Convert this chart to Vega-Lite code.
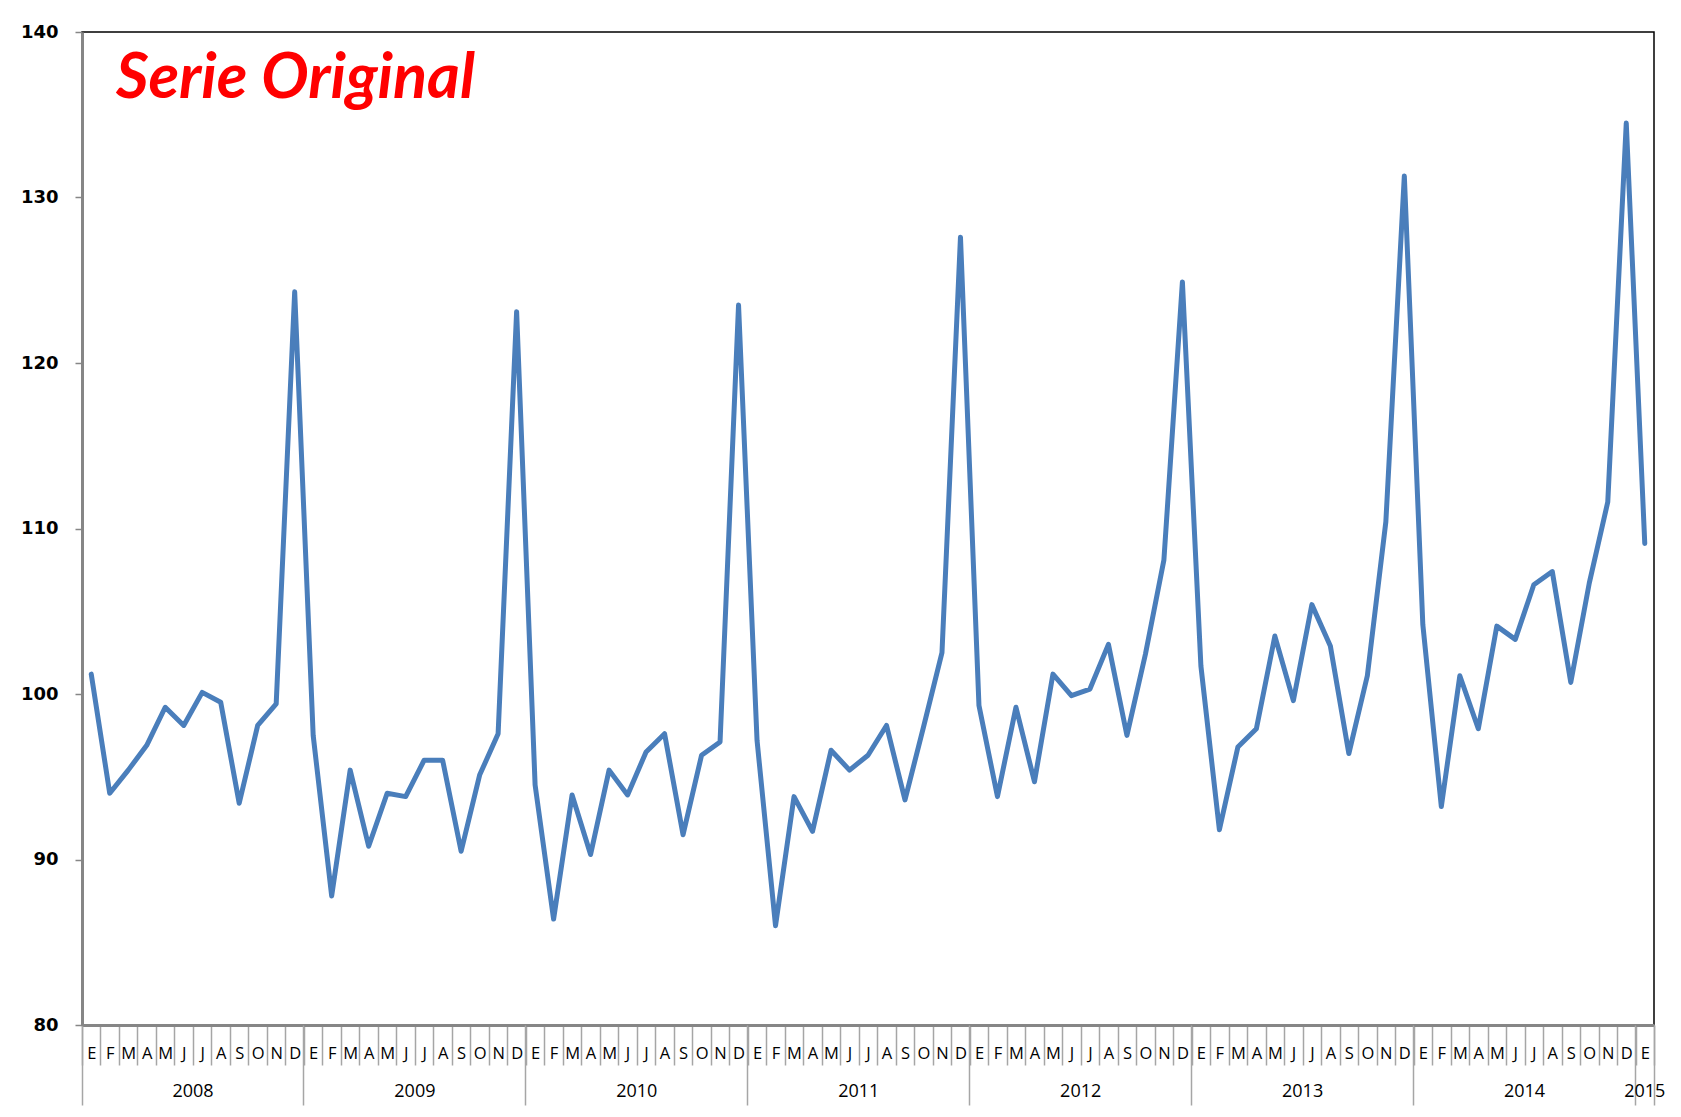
{
  "$schema": "https://vega.github.io/schema/vega-lite/v6.json",
  "autosize": "none",
  "width": 1572,
  "height": 993,
  "padding": {"left": 82, "top": 32, "right": 27, "bottom": 92},
  "background": "white",
  "title": {
    "text": "Serie Original",
    "anchor": "start",
    "frame": "group",
    "orient": "top",
    "dx": 34,
    "dy": 71,
    "offset": -67,
    "baseline": "alphabetic",
    "color": "#FF0000",
    "font": "Lato",
    "fontSize": 63,
    "fontWeight": "bold",
    "fontStyle": "italic"
  },
  "config": {"view": {"stroke": "#000000", "strokeWidth": 1.5}},
  "data": {
    "values": [
      {"mes": "2008-01", "valor": 101.2}, {"mes": "2008-02", "valor": 94.0}, {"mes": "2008-03", "valor": 95.4}, {"mes": "2008-04", "valor": 96.9},
      {"mes": "2008-05", "valor": 99.2}, {"mes": "2008-06", "valor": 98.1}, {"mes": "2008-07", "valor": 100.1}, {"mes": "2008-08", "valor": 99.5},
      {"mes": "2008-09", "valor": 93.4}, {"mes": "2008-10", "valor": 98.1}, {"mes": "2008-11", "valor": 99.4}, {"mes": "2008-12", "valor": 124.3},
      {"mes": "2009-01", "valor": 97.5}, {"mes": "2009-02", "valor": 87.8}, {"mes": "2009-03", "valor": 95.4}, {"mes": "2009-04", "valor": 90.8},
      {"mes": "2009-05", "valor": 94.0}, {"mes": "2009-06", "valor": 93.8}, {"mes": "2009-07", "valor": 96.0}, {"mes": "2009-08", "valor": 96.0},
      {"mes": "2009-09", "valor": 90.5}, {"mes": "2009-10", "valor": 95.1}, {"mes": "2009-11", "valor": 97.6}, {"mes": "2009-12", "valor": 123.1},
      {"mes": "2010-01", "valor": 94.5}, {"mes": "2010-02", "valor": 86.4}, {"mes": "2010-03", "valor": 93.9}, {"mes": "2010-04", "valor": 90.3},
      {"mes": "2010-05", "valor": 95.4}, {"mes": "2010-06", "valor": 93.9}, {"mes": "2010-07", "valor": 96.5}, {"mes": "2010-08", "valor": 97.6},
      {"mes": "2010-09", "valor": 91.5}, {"mes": "2010-10", "valor": 96.3}, {"mes": "2010-11", "valor": 97.1}, {"mes": "2010-12", "valor": 123.5},
      {"mes": "2011-01", "valor": 97.2}, {"mes": "2011-02", "valor": 86.0}, {"mes": "2011-03", "valor": 93.8}, {"mes": "2011-04", "valor": 91.7},
      {"mes": "2011-05", "valor": 96.6}, {"mes": "2011-06", "valor": 95.4}, {"mes": "2011-07", "valor": 96.3}, {"mes": "2011-08", "valor": 98.1},
      {"mes": "2011-09", "valor": 93.6}, {"mes": "2011-10", "valor": 98.0}, {"mes": "2011-11", "valor": 102.5}, {"mes": "2011-12", "valor": 127.6},
      {"mes": "2012-01", "valor": 99.3}, {"mes": "2012-02", "valor": 93.8}, {"mes": "2012-03", "valor": 99.2}, {"mes": "2012-04", "valor": 94.7},
      {"mes": "2012-05", "valor": 101.2}, {"mes": "2012-06", "valor": 99.9}, {"mes": "2012-07", "valor": 100.3}, {"mes": "2012-08", "valor": 103.0},
      {"mes": "2012-09", "valor": 97.5}, {"mes": "2012-10", "valor": 102.4}, {"mes": "2012-11", "valor": 108.1}, {"mes": "2012-12", "valor": 124.9},
      {"mes": "2013-01", "valor": 101.7}, {"mes": "2013-02", "valor": 91.8}, {"mes": "2013-03", "valor": 96.8}, {"mes": "2013-04", "valor": 97.9},
      {"mes": "2013-05", "valor": 103.5}, {"mes": "2013-06", "valor": 99.6}, {"mes": "2013-07", "valor": 105.4}, {"mes": "2013-08", "valor": 102.9},
      {"mes": "2013-09", "valor": 96.4}, {"mes": "2013-10", "valor": 101.1}, {"mes": "2013-11", "valor": 110.4}, {"mes": "2013-12", "valor": 131.3},
      {"mes": "2014-01", "valor": 104.2}, {"mes": "2014-02", "valor": 93.2}, {"mes": "2014-03", "valor": 101.1}, {"mes": "2014-04", "valor": 97.9},
      {"mes": "2014-05", "valor": 104.1}, {"mes": "2014-06", "valor": 103.3}, {"mes": "2014-07", "valor": 106.6}, {"mes": "2014-08", "valor": 107.4},
      {"mes": "2014-09", "valor": 100.7}, {"mes": "2014-10", "valor": 106.7}, {"mes": "2014-11", "valor": 111.6}, {"mes": "2014-12", "valor": 134.5},
      {"mes": "2015-01", "valor": 109.1}
    ]
  },
  "layer": [
    {
      "mark": {"type": "bar", "opacity": 0},
      "encoding": {
        "x": {
          "field": "mes", "type": "ordinal", "sort": null,
          "scale": {"type": "band", "paddingInner": 0, "paddingOuter": 0},
          "axis": {
            "orient": "bottom", "title": null, "tickBand": "extent",
            "tickSize": 40, "tickColor": "#A6A6A6", "tickWidth": 1.5,
            "domainColor": "#868686", "domainWidth": 3,
            "labelExpr": "isString(datum.value) ? ['E','F','M','A','M','J','J','A','S','O','N','D'][toNumber(slice(datum.value, 5, 7)) - 1] : ''",
            "labelAngle": 0, "labelFont": "Open Sans", "labelFontSize": 16.5, "labelColor": "#000000",
            "labelBaseline": "middle", "labelAlign": "center", "labelPadding": -12,
            "labelOverlap": false, "labelBound": false, "labelFlush": false
          }
        },
        "y": {"field": "valor", "type": "quantitative"}
      }
    },
    {
      "mark": {"type": "bar", "opacity": 0},
      "encoding": {
        "x": {
          "field": "mes", "type": "ordinal", "sort": null,
          "scale": {"type": "band", "paddingInner": 0, "paddingOuter": 0},
          "axis": {
            "orient": "bottom", "title": null, "bandPosition": 0, "domain": false, "labels": false,
            "values": ["2008-01", "2009-01", "2010-01", "2011-01", "2012-01", "2013-01", "2014-01", "2015-01"],
            "tickSize": 80, "tickColor": "#A6A6A6", "tickWidth": 1.5
          }
        },
        "y": {"field": "valor", "type": "quantitative"}
      }
    },
    {
      "mark": {"type": "bar", "opacity": 0},
      "encoding": {
        "x": {
          "field": "mes", "type": "ordinal", "sort": null,
          "scale": {"type": "band", "paddingInner": 0, "paddingOuter": 0},
          "axis": {
            "orient": "bottom", "title": null, "bandPosition": 1, "domain": false, "labels": false,
            "values": ["2015-01"],
            "tickSize": 80, "tickColor": "#A6A6A6", "tickWidth": 1.5
          }
        },
        "y": {"field": "valor", "type": "quantitative"}
      }
    },
    {
      "mark": {"type": "bar", "opacity": 0},
      "encoding": {
        "x": {
          "field": "mes", "type": "ordinal", "sort": null,
          "scale": {"type": "band", "paddingInner": 0, "paddingOuter": 0},
          "axis": {
            "orient": "bottom", "title": null, "domain": false, "ticks": false, "tickSize": 0,
            "values": ["2008-07", "2009-07", "2010-07", "2011-07", "2012-07", "2013-07", "2014-07", "2015-01"],
            "labelExpr": "isString(datum.value) ? slice(datum.value, 0, 4) : ''",
            "labelOffset": {"condition": {"test": "datum.value == '2015-01'", "value": 0}, "value": -9.25},
            "labelAngle": 0, "labelFont": "Open Sans", "labelFontSize": 18, "labelColor": "#000000",
            "labelBaseline": "middle", "labelAlign": "center", "labelPadding": 66,
            "labelOverlap": false, "labelBound": false, "labelFlush": false
          }
        },
        "y": {"field": "valor", "type": "quantitative"}
      }
    },
    {
      "mark": {"type": "line", "color": "#4A7EBB", "strokeWidth": 5, "strokeJoin": "round", "strokeCap": "round"},
      "encoding": {
        "x": {
          "field": "mes", "type": "ordinal", "sort": null,
          "scale": {"type": "point", "padding": 0.5},
          "axis": null
        },
        "y": {
          "field": "valor", "type": "quantitative",
          "scale": {"domain": [80, 140], "nice": false, "zero": false},
          "axis": {
            "title": null, "values": [80, 90, 100, 110, 120, 130, 140], "grid": false,
            "domainColor": "#868686", "domainWidth": 3,
            "tickColor": "#868686", "tickSize": 7, "tickWidth": 1.5,
            "labelFont": "DejaVu Sans", "labelFontWeight": "bold", "labelFontSize": 18, "labelColor": "#000000",
            "labelPadding": 17
          }
        }
      }
    }
  ],
  "resolve": {"scale": {"x": "independent"}, "axis": {"x": "independent"}}
}
